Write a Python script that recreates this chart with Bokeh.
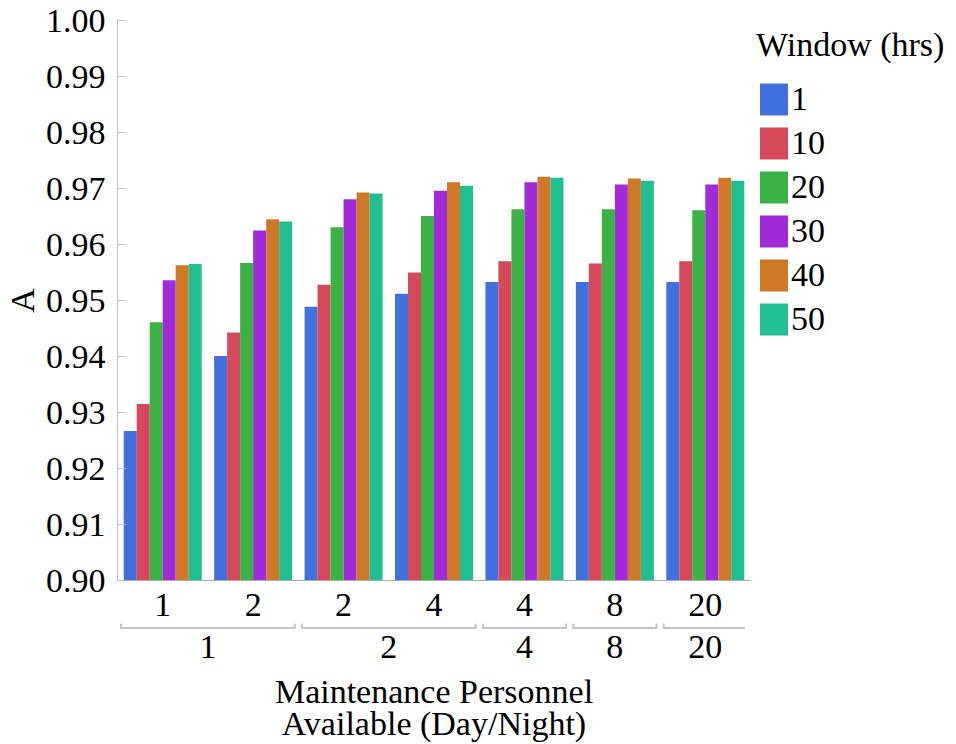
from bokeh.plotting import figure
from bokeh.layouts import column
from bokeh.models import (ColumnDataSource, FactorRange, Legend, LegendItem,
                          FixedTicker, NumeralTickFormatter, Range1d)
from bokeh.transform import dodge
from bokeh.embed import file_html
from bokeh.resources import INLINE

# ---- data ----
night = ["1", "1", "2", "2", "4", "8", "20"]      # bottom row (group)
day = ["1", "2", "2", "4", "4", "8", "20"]        # top row (subgroup)
windows = ["1", "10", "20", "30", "40", "50"]
a_w1 = [0.9267, 0.9401, 0.9489, 0.9512, 0.9533, 0.9533, 0.9533]
a_w10 = [0.9315, 0.9443, 0.9528, 0.9550, 0.9570, 0.9566, 0.9570]
a_w20 = [0.9461, 0.9567, 0.9631, 0.9651, 0.9663, 0.9663, 0.9661]
a_w30 = [0.9536, 0.9625, 0.9681, 0.9696, 0.9711, 0.9707, 0.9707]
a_w40 = [0.9563, 0.9645, 0.9693, 0.9711, 0.9721, 0.9718, 0.9719]
a_w50 = [0.9565, 0.9641, 0.9691, 0.9705, 0.9719, 0.9714, 0.9714]
y_ticks = [0.90, 0.91, 0.92, 0.93, 0.94, 0.95, 0.96, 0.97, 0.98, 0.99, 1.00]

series = [a_w1, a_w10, a_w20, a_w30, a_w40, a_w50]
colors = ["#4171DF", "#D5495B", "#3AB244", "#A12BD9", "#CF7926", "#21BD93"]
FONT = "Liberation Serif"
FS = "34px"
LEFT = 112
FW, FH = 633, 560

factors = list(zip(night, day))
data = {"x": factors}
for w, s in zip(windows, series):
    data["w" + w] = s
src = ColumnDataSource(data)

xr = FactorRange(*factors, factor_padding=0, group_padding=0, range_padding=0)

# ---------------- main chart ----------------
p = figure(frame_width=FW, frame_height=FH, x_range=xr,
           y_range=Range1d(y_ticks[0], y_ticks[-1]),
           output_backend="svg", toolbar_location=None,
           min_border_left=LEFT, min_border_right=0, min_border_top=20, min_border_bottom=43)
p.outline_line_color = None
p.grid.visible = False

bw = 0.1438
n = len(windows)
items = []
for i, (w, c) in enumerate(zip(windows, colors)):
    off = (i - (n - 1) / 2) * bw
    r = p.vbar(x=dodge("x", off, range=xr), top="w" + w, bottom=0, width=bw,
               source=src, fill_color=c, line_color=None)
    items.append(LegendItem(label=w, renderers=[r]))

ya = p.yaxis[0]
ya.ticker = FixedTicker(ticks=y_ticks)
ya.formatter = NumeralTickFormatter(format="0.00")
ya.axis_label = "A"
ya.axis_label_text_font = FONT
ya.axis_label_text_font_size = FS
ya.axis_label_text_font_style = "normal"
ya.axis_label_text_color = "black"
ya.axis_label_standoff = 2
ya.major_label_text_font = FONT
ya.major_label_text_font_size = FS
ya.major_label_text_color = "black"
ya.major_label_standoff = 12
ya.major_tick_in = 8
ya.major_tick_out = 0
ya.minor_tick_line_color = None
ya.axis_line_color = "#c4c4c4"
ya.major_tick_line_color = "#c4c4c4"

xa = p.xaxis[0]
xa.major_label_text_font = FONT
xa.major_label_text_font_size = FS
xa.major_label_text_color = "black"
xa.major_label_standoff = 13
xa.group_text_font_size = "0px"
xa.group_text_color = None
xa.separator_line_color = None
xa.major_tick_in = 0
xa.major_tick_out = 0
xa.axis_line_color = "#a9a9a9"

legend = Legend(items=items, title="Window (hrs)", location="top_left")
legend.title_text_font = FONT
legend.title_text_font_size = FS
legend.title_text_font_style = "normal"
legend.title_text_color = "black"
legend.title_standoff = 15
legend.label_text_font = FONT
legend.label_text_font_size = FS
legend.label_text_color = "black"
legend.glyph_width = 35
legend.glyph_height = 40
legend.label_height = 32
legend.label_standoff = 0
legend.spacing = 4
legend.padding = 5
legend.margin = 6
legend.border_line_color = None
legend.background_fill_alpha = 0
p.add_layout(legend, "right")

# ---------------- bracket strip + group labels ----------------
groups = []
for g in night:
    if g not in groups:
        groups.append(g)
left, right = [], []
for g in groups:
    subs = [d for nn, d in factors if nn == g]
    left.append((g, subs[0], -0.46))
    right.append((g, subs[-1], 0.46))
bsrc = ColumnDataSource(dict(left=left, right=right))

q = figure(frame_width=FW, frame_height=10, x_range=xr, y_range=Range1d(0, 1),
           output_backend="svg", toolbar_location=None, y_axis_location=None,
           min_border_left=LEFT, min_border_right=0, min_border_top=0, min_border_bottom=0)
q.outline_line_color = None
q.grid.visible = False
BR = "#c4c4c4"
q.segment(x0="left", y0=0.55, x1="right", y1=0.55, source=bsrc,
          line_color=BR, line_width=2, line_cap="round")
q.segment(x0="left", y0=0.55, x1="left", y1=0.95, source=bsrc,
          line_color=BR, line_width=2, line_cap="round")
q.segment(x0="right", y0=0.55, x1="right", y1=0.95, source=bsrc,
          line_color=BR, line_width=2, line_cap="round")

qa = q.xaxis[0]
qa.axis_label = "Maintenance Personnel\nAvailable (Day/Night)"
qa.axis_label_text_font = FONT
qa.axis_label_text_font_size = FS
qa.axis_label_text_font_style = "normal"
qa.axis_label_text_color = "black"
qa.axis_label_text_line_height = 0.88
qa.axis_label_standoff = 12
qa.major_label_text_font_size = "0px"
qa.major_label_text_color = None
qa.major_label_standoff = 2
qa.group_text_font = FONT
qa.group_text_font_size = FS
qa.group_text_font_style = "normal"
qa.group_text_color = "black"
qa.separator_line_color = None
qa.major_tick_in = 0
qa.major_tick_out = 0
qa.axis_line_color = None

layout = column(p, q, spacing=0)
open("out.html", "w").write(file_html(layout, INLINE))
